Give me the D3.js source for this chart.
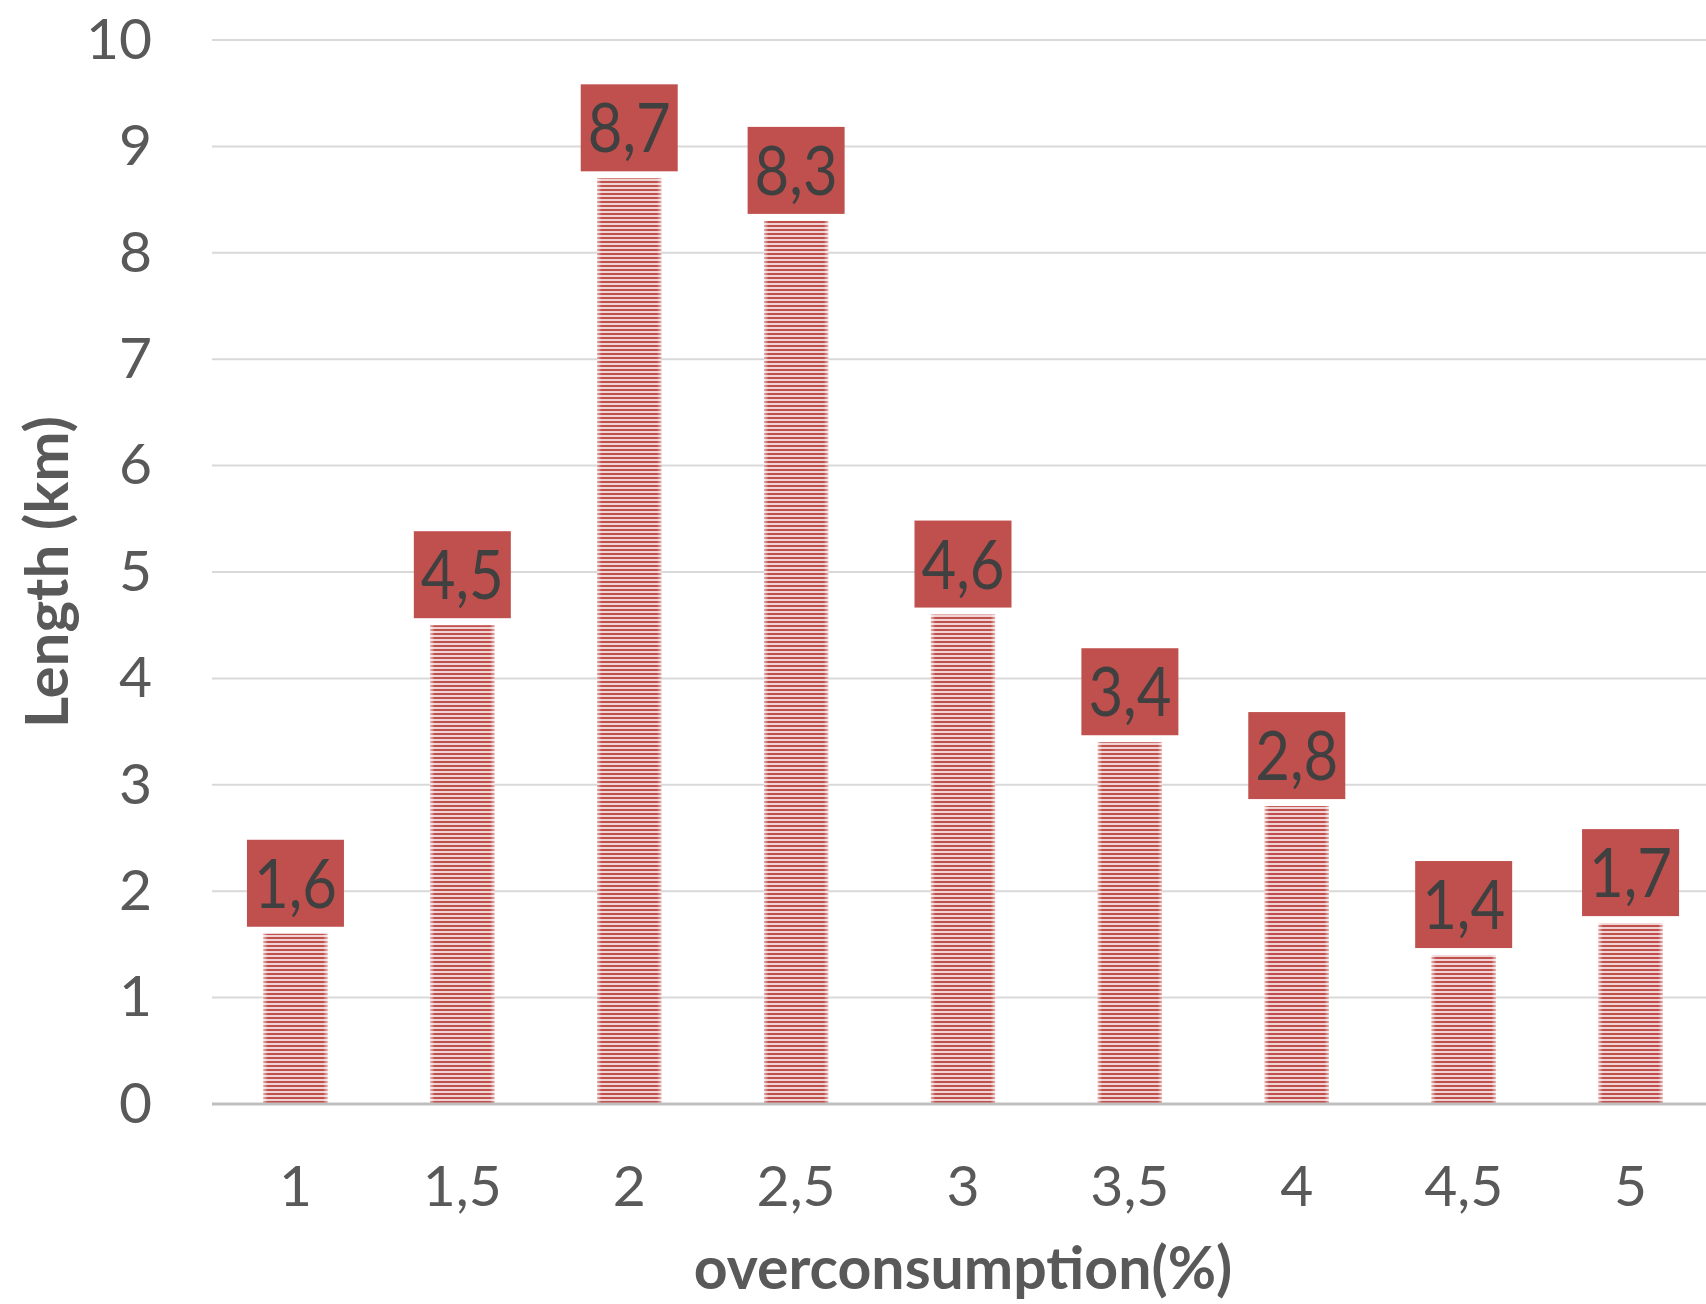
<!DOCTYPE html>
<html>
<head>
<meta charset="utf-8">
<script src="https://cdn.jsdelivr.net/npm/d3@7"></script>
<style>
  html, body { margin: 0; padding: 0; background: #ffffff; }
  svg { display: block; }
</style>
</head>
<body>
<script>
// Overconsumption classes (%) and the length of road (km) in each class
const categories = ["1", "1,5", "2", "2,5", "3", "3,5", "4", "4,5", "5"];
const lengths = [1.6, 4.5, 8.7, 8.3, 4.6, 3.4, 2.8, 1.4, 1.7];
const yTicks = [0, 1, 2, 3, 4, 5, 6, 7, 8, 9, 10];
const xTitle = "overconsumption(%)";
const yTitle = "Length (km)";

const W = 1706, H = 1304;
const plot = { left: 212, right: 1714, top: 40, bottom: 1104 };
const FONT = "Lato, 'Open Sans', sans-serif";

const svg = d3.select("body").append("svg")
  .attr("width", W).attr("height", H);

const defs = svg.append("defs");
// horizontal stripe fill of the bars
const pat = defs.append("pattern")
  .attr("id", "stripes")
  .attr("patternUnits", "userSpaceOnUse")
  .attr("width", 8).attr("height", 4);
pat.append("rect").attr("width", 8).attr("height", 4).attr("fill", "#f0d4d3");
pat.append("rect").attr("y", 1).attr("width", 8).attr("height", 2).attr("fill", "#c0504d");

// soft fade toward the bar edges
const fade = defs.append("linearGradient").attr("id", "edgeFade")
  .attr("x1", "0").attr("x2", "1").attr("y1", "0").attr("y2", "0");
fade.append("stop").attr("offset", "0").attr("stop-color", "#fff").attr("stop-opacity", 0.55);
fade.append("stop").attr("offset", "0.07").attr("stop-color", "#fff").attr("stop-opacity", 0);
fade.append("stop").attr("offset", "0.93").attr("stop-color", "#fff").attr("stop-opacity", 0);
fade.append("stop").attr("offset", "1").attr("stop-color", "#fff").attr("stop-opacity", 0.55);

const x = d3.scaleBand()
  .domain(categories)
  .range([plot.left, plot.right])
  .paddingInner(1.6 / 2.6)
  .paddingOuter(0.8 / 2.6);

const y = d3.scaleLinear()
  .domain([0, 10])
  .range([plot.bottom, plot.top]);

const gridRight = W;

// gridlines
svg.append("g")
  .selectAll("line")
  .data(yTicks.filter(d => d > 0))
  .join("line")
  .attr("x1", plot.left).attr("x2", gridRight)
  .attr("y1", d => y(d)).attr("y2", d => y(d))
  .attr("stroke", "#d9d9d9").attr("stroke-width", 2);

// y axis labels
const yAxis = svg.append("g")
  .attr("transform", `translate(${plot.left},0)`)
  .call(d3.axisLeft(y).tickValues(yTicks).tickSize(0).tickPadding(60).tickFormat(d3.format("d")));
yAxis.select(".domain").remove();
yAxis.selectAll("text")
  .attr("fill", "#595959")
  .style("font-family", FONT)
  .style("font-size", "57px");

// bars
const bars = svg.append("g");
bars.selectAll("rect.bar")
  .data(lengths)
  .join("rect")
  .attr("class", "bar")
  .attr("x", (d, i) => x(categories[i]))
  .attr("width", x.bandwidth())
  .attr("y", d => y(d))
  .attr("height", d => y(0) - y(d))
  .attr("fill", "url(#stripes)");
bars.selectAll("rect.fade")
  .data(lengths)
  .join("rect")
  .attr("class", "fade")
  .attr("x", (d, i) => x(categories[i]))
  .attr("width", x.bandwidth())
  .attr("y", d => y(d))
  .attr("height", d => y(0) - y(d))
  .attr("fill", "url(#edgeFade)");

// baseline
svg.append("line")
  .attr("x1", plot.left).attr("x2", gridRight)
  .attr("y1", y(0)).attr("y2", y(0))
  .attr("stroke", "#bfbfbf").attr("stroke-width", 3);

// x axis labels
const xAxis = svg.append("g")
  .attr("transform", `translate(0,${plot.bottom})`)
  .call(d3.axisBottom(x).tickSize(0).tickPadding(62));
xAxis.select(".domain").remove();
xAxis.selectAll("text")
  .attr("fill", "#595959")
  .style("font-family", FONT)
  .style("font-size", "57px");

// value labels in filled boxes
const fmt = v => d3.format(".1f")(v).replace(".", ",");
const boxW = 97, boxH = 87, gap = 7;
const lab = svg.append("g").selectAll("g")
  .data(lengths)
  .join("g")
  .attr("transform", (d, i) =>
    `translate(${x(categories[i]) + x.bandwidth() / 2},${y(d) - gap - boxH / 2})`);
lab.append("rect")
  .attr("x", -boxW / 2).attr("y", -boxH / 2)
  .attr("width", boxW).attr("height", boxH)
  .attr("fill", "#c0504d");
lab.append("text")
  .attr("text-anchor", "middle")
  .attr("dy", "0.36em")
  .attr("transform", "scale(0.88,1)")
  .attr("fill", "#404040")
  .style("font-family", FONT)
  .style("font-size", "68px")
  .text(d => fmt(d));

// axis titles
svg.append("text")
  .attr("x", 963)
  .attr("y", 1289)
  .attr("text-anchor", "middle")
  .attr("fill", "#595959")
  .style("font-family", FONT)
  .style("font-weight", "bold")
  .style("font-size", "59px")
  .text(xTitle);

svg.append("text")
  .attr("transform", `translate(68,572) rotate(-90)`)
  .attr("text-anchor", "middle")
  .attr("fill", "#595959")
  .style("font-family", FONT)
  .style("font-weight", "bold")
  .style("font-size", "60px")
  .text(yTitle);
</script>
</body>
</html>
